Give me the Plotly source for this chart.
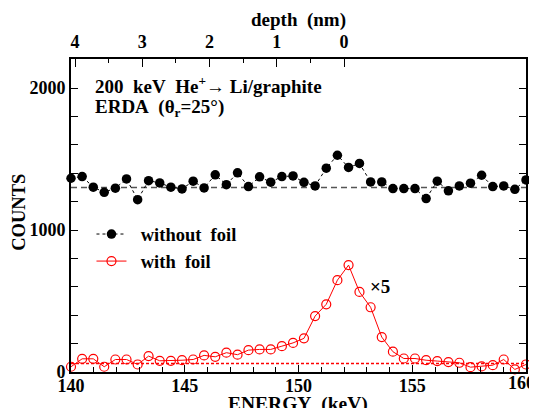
import plotly.graph_objects as go

energy = [140.00, 140.49, 140.98, 141.46, 141.95, 142.44, 142.93, 143.41, 143.90, 144.39,
          144.88, 145.37, 145.85, 146.34, 146.83, 147.32, 147.80, 148.29, 148.78, 149.27,
          149.76, 150.24, 150.73, 151.22, 151.71, 152.20, 152.68, 153.17, 153.66, 154.15,
          154.63, 155.12, 155.61, 156.10, 156.59, 157.07, 157.56, 158.05, 158.54, 159.02,
          159.51, 160.00]
without_foil = [1365, 1377, 1302, 1266, 1295, 1360, 1214, 1348, 1332, 1302,
                1290, 1344, 1297, 1389, 1320, 1403, 1306, 1375, 1337, 1377,
                1381, 1336, 1311, 1436, 1527, 1441, 1469, 1339, 1339, 1292,
                1292, 1292, 1222, 1344, 1276, 1311, 1330, 1386, 1306, 1311,
                1287, 1353]
with_foil = [37, 93, 93, 37, 88, 88, 53, 112, 79, 79,
             83, 88, 117, 107, 136, 122, 154, 159, 159, 182,
             205, 237, 394, 477, 647, 753, 564, 456, 246, 143,
             95, 95, 83, 77, 70, 65, 34, 39, 48, 88,
             18, 53]
baseline_without = 1300
baseline_with = 60
energy_ticks = [140, 145, 150, 155, 160]
energy_labels = ["140", "145", "150", "155", "160"]
count_ticks = [0, 1000, 2000]
depth_ticks = [4, 3, 2, 1, 0]
depth_minor = [3.5, 2.5, 1.5, 0.5]

FONT = "Liberation Serif"
NB = "\u00a0"
OFF = 8  # page body margin offset
W, H = 537 - OFF, 408 - OFF
L, T = 71 - OFF, 59 - OFF
R = W - (526 - OFF)
B = H - (372.5 - OFF)
PW, PH = W - L - R, H - T - B

# the last energy label is drawn as an annotation so it stays inside the page
tick_text = energy_labels[:-1] + [""]

fig = go.Figure()
fig.add_trace(go.Scatter(
    x=energy, y=without_foil, name=NB * 2 + "without" + NB * 2 + "foil", mode="lines+markers",
    line=dict(color="black", width=1, dash="dot"),
    marker=dict(symbol="circle", size=9.5, color="black"),
    cliponaxis=False))
fig.add_trace(go.Scatter(
    x=energy, y=with_foil, name=NB * 2 + "with" + NB * 2 + "foil", mode="lines+markers",
    line=dict(color="#ff0000", width=1),
    marker=dict(symbol="circle-open", size=9, color="#ff0000", line=dict(width=1.2)),
    cliponaxis=False))
# invisible trace to activate top depth axis
fig.add_trace(go.Scatter(x=[0], y=[0], xaxis="x2", mode="markers",
                         marker=dict(opacity=0), showlegend=False, hoverinfo="skip"))

fig.add_shape(type="line", xref="paper", x0=0, x1=1, yref="y",
              y0=baseline_without, y1=baseline_without,
              line=dict(color="#555555", width=1.6, dash="6px,4px"), layer="below")
fig.add_shape(type="line", xref="paper", x0=0, x1=1, yref="y",
              y0=baseline_with, y1=baseline_with,
              line=dict(color="#ff0000", width=1.5, dash="3px,2px"), layer="below")

tickfont = dict(size=18, family=FONT, weight="bold", color="black")
fig.update_layout(
    width=W, height=H,
    margin=dict(l=L, r=R, t=T, b=B, autoexpand=False),
    plot_bgcolor="white", paper_bgcolor="white",
    font=dict(family=FONT, size=18, color="black", weight="bold"),
    showlegend=True,
    legend=dict(x=0.045, y=0.5, xanchor="left", yanchor="top",
                bgcolor="rgba(0,0,0,0)", font=dict(size=18.5, family=FONT, weight="bold"),
                itemwidth=30, tracegroupgap=0),
    xaxis=dict(range=[140, 160], showline=True, linecolor="black", linewidth=1.8,
               mirror=False, ticks="inside", ticklen=7, tickwidth=1.3, tickcolor="black",
               tickvals=energy_ticks, ticktext=tick_text, showgrid=False, zeroline=False,
               tickfont=tickfont, automargin=False, ticklabelstandoff=-4,
               ticklabeloverflow="allow",
               minor=dict(tickmode="linear", tick0=140, dtick=1, ticks="inside",
                          ticklen=5, tickwidth=1.3, tickcolor="black", showgrid=False)),
    xaxis2=dict(overlaying="x", side="top", range=[4.06, -2.706], showline=True,
                linecolor="black", linewidth=1.8, ticks="inside", ticklen=8, tickwidth=1.3,
                tickcolor="black", tickvals=depth_ticks, showgrid=False, zeroline=False,
                tickfont=tickfont, automargin=False, ticklabelstandoff=2,
                minor=dict(tickmode="array", tickvals=depth_minor, ticks="inside",
                           ticklen=4, tickwidth=1.3, tickcolor="black", showgrid=False)),
    yaxis=dict(range=[0, 2205], showline=True, linecolor="black", linewidth=1.8,
               mirror="ticks", ticks="inside", ticklen=7, tickwidth=1.3, tickcolor="black",
               tickvals=count_ticks, showgrid=False, zeroline=False,
               tickfont=tickfont, automargin=False, ticklabelstandoff=0,
               minor=dict(tickmode="linear", tick0=0, dtick=200, ticks="inside",
                          ticklen=7, tickwidth=1.3, tickcolor="black", showgrid=False)),
)

annotations = [
    ("200" + NB * 2 + "keV" + NB * 2 + "He<sup>+</sup>→" + NB + "Li/graphite", 93, 85, "left", 0, 19),
    ("ERDA" + NB * 2 + "(θ<sub>r</sub>=25°)", 93, 108, "left", 0, 19),
    ("×5", 368, 287, "left", 0, 19),
    ("depth" + NB * 2 + "(nm)", 298, 20, "center", 0, 19),
    ("ENERGY" + NB * 2 + "(keV)", 298, 405, "center", 0, 19.5),
    ("COUNTS", 19, 213, "center", -90, 18.5),
    (energy_labels[-1], 521, 384, "center", 0, 18),
]
for text, px, py, xa, ang, fs in annotations:
    px, py = px - OFF, py - OFF
    fig.add_annotation(x=(px - L) / PW, y=1 - (py - T) / PH, xref="paper", yref="paper",
                       text=text, showarrow=False, xanchor=xa, yanchor="middle",
                       textangle=ang, font=dict(size=fs, family=FONT, weight="bold"))

fig.write_html("out.html")
